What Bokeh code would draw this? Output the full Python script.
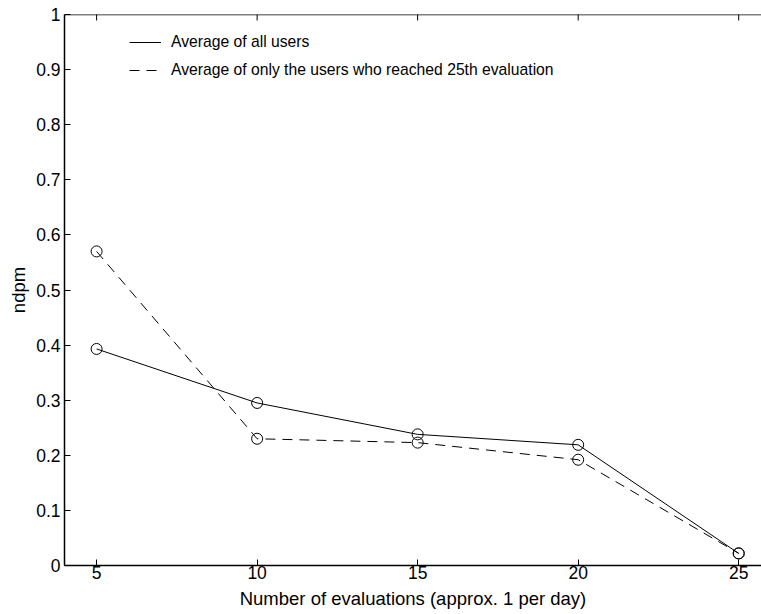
import math
from bokeh.plotting import figure
from bokeh.models import FixedTicker, Legend, LegendItem, Range1d, Span
from bokeh.embed import file_html
from bokeh.resources import INLINE

evaluations = [5, 10, 15, 20, 25]
avg_all_users = [0.393, 0.295, 0.238, 0.219, 0.022]
avg_reached_25 = [0.570, 0.230, 0.223, 0.192, 0.022]
x_ticks = [5, 10, 15, 20, 25]
y_ticks = [0, 0.1, 0.2, 0.3, 0.4, 0.5, 0.6, 0.7, 0.8, 0.9, 1]
y_tick_labels = ["0", "0.1", "0.2", "0.3", "0.4", "0.5", "0.6", "0.7", "0.8", "0.9", "1"]
series_labels = ["Average of all users",
                 "Average of only the users who reached 25th evaluation"]
x_label = "Number of evaluations (approx. 1 per day)"
y_label = "ndpm"

FONT = "Liberation Sans"
X_START, X_END = 4, 25.71
Y_START, Y_END = 0, 1

p = figure(width=761, height=614, x_range=Range1d(X_START, X_END),
           y_range=Range1d(Y_START, Y_END),
           output_backend="svg", toolbar_location=None,
           min_border_left=64, min_border_right=0, min_border_top=14, min_border_bottom=49)
p.outline_line_color = None
p.xgrid.visible = False
p.ygrid.visible = False
p.background_fill_color = "white"
p.border_fill_color = "white"


def style_axis(ax, ticks):
    ax.ticker = FixedTicker(ticks=ticks)
    ax.major_tick_in = 6
    ax.major_tick_out = 0
    ax.minor_tick_line_color = None
    ax.major_tick_line_color = "black"
    ax.major_tick_line_width = 1
    ax.axis_line_color = "black"
    ax.axis_line_width = 1.5
    ax.major_label_text_font = FONT
    ax.major_label_text_color = "black"
    ax.major_label_text_font_size = "17.5px"
    ax.axis_label_text_font = FONT
    ax.axis_label_text_font_style = "normal"
    ax.axis_label_text_font_size = "18.5px"
    ax.axis_label_text_color = "black"


xa = p.xaxis[0]
style_axis(xa, x_ticks)
xa.major_label_standoff = 0
xa.axis_label = x_label
xa.axis_label_standoff = 6

ya = p.yaxis[0]
style_axis(ya, y_ticks)
ya.major_label_overrides = {t: l for t, l in zip(y_ticks, y_tick_labels)}
ya.major_label_standoff = 4
ya.axis_label = y_label
ya.axis_label_standoff = 4

# top border of the box with inward ticks
p.add_layout(Span(location=Y_END, dimension="width", line_color="black", line_width=1.5))
p.scatter(x_ticks, [Y_END] * len(x_ticks), marker="dash", angle=math.pi / 2, size=12,
          line_color="black", line_width=1)

r1 = p.line(evaluations, avg_all_users, line_color="black", line_width=1)
p.scatter(evaluations, avg_all_users, marker="circle", size=11,
          fill_color=None, line_color="black", line_width=1)
r2 = p.line(evaluations, avg_reached_25, line_color="black", line_width=1, line_dash="10 7")
p.scatter(evaluations, avg_reached_25, marker="circle", size=11,
          fill_color=None, line_color="black", line_width=1)

legend = Legend(items=[LegendItem(label=series_labels[0], renderers=[r1]),
                       LegendItem(label=series_labels[1], renderers=[r2])],
                location=(65, 485))
legend.label_text_font = FONT
legend.label_text_font_size = "15.7px"
legend.label_text_color = "black"
legend.label_standoff = 10
legend.glyph_width = 32
legend.glyph_height = 20
legend.spacing = 8
legend.padding = 0
legend.margin = 0
legend.border_line_color = None
legend.background_fill_alpha = 0
p.add_layout(legend, "center")

open("out.html", "w").write(file_html(p, INLINE))
